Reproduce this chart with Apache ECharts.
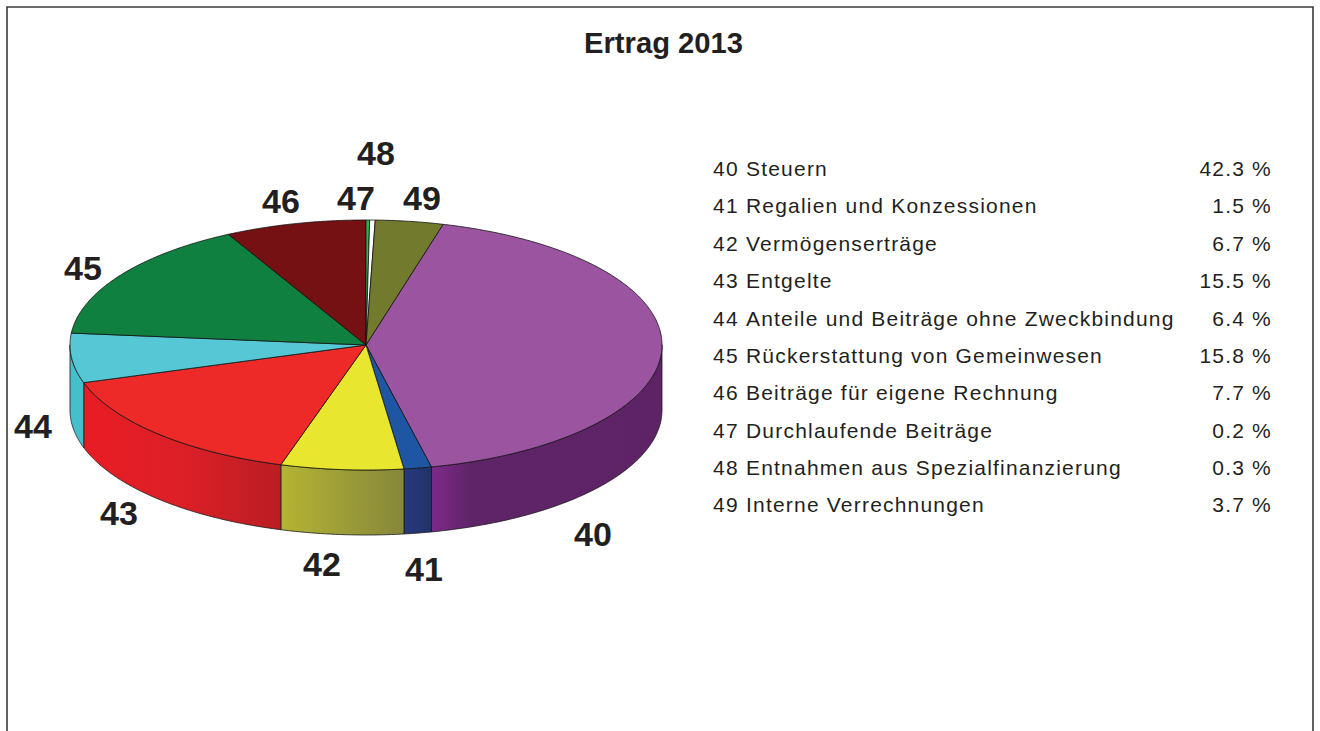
<!DOCTYPE html>
<html>
<head>
<meta charset="utf-8">
<style>
html,body{margin:0;padding:0;background:#fff;overflow:hidden}
#c{width:1320px;height:731px}
#c svg text{letter-spacing:1.2px}
#c svg text[style*="bold"]{letter-spacing:0}
</style>
<script src="https://cdn.jsdelivr.net/npm/echarts@6/dist/echarts.min.js"></script>
</head>
<body>
<div id="c"></div>
<script>
const codes = ['40','41','42','43','44','45','46','47','48','49'];
const names = ['Steuern','Regalien und Konzessionen','Vermögenserträge','Entgelte','Anteile und Beiträge ohne Zweckbindung','Rückerstattung von Gemeinwesen','Beiträge für eigene Rechnung','Durchlaufende Beiträge','Entnahmen aus Spezialfinanzierung','Interne Verrechnungen'];
const shares = [42.3,1.5,6.7,15.5,6.4,15.8,7.7,0.2,0.3,3.7];
const title = 'Ertrag 2013';

// appearance and layout, separate from the data
const topColors = ['#9b55a0','#1e56a4','#e8e62f','#ee2a29','#56c7d5','#108040','#751013','#2fb24a','#ffffff','#727a2e'];
const wallStops = [
  [[0,'#7d2a8a'],[0.17,'#5f2468'],[1,'#5d2365']],
  [[0,'#26397b'],[1,'#22336b']],
  [[0,'#b4b434'],[1,'#86873a']],
  [[0,'#e81c24'],[0.5,'#dc1f27'],[1,'#b91e23']],
  [[0,'#45bfcc'],[1,'#45bfcc']],
  null,null,null,null,null
];
const labelCentres = [[593,534],[424,569],[322,564],[119,513],[33,426],[83,268],[281,201],[356,198],[376,153],[422,198]];
const pie = {cx:366, cy:345, rx:296, ry:125, depth:65, start:15.1};
const legend = {x:713, xName:746, xRight:1272, y0:168.6, dy:37.35, size:21};
const inkColor = '#231f20';

const total = shares.reduce((a,b)=>a+b,0);
const starts = [];
shares.reduce((acc,v,i)=>{starts[i]=acc;return acc+v/total*360;},pie.start);

function rim(a,dy){
  const r=a*Math.PI/180;
  return [pie.cx+pie.rx*Math.sin(r), pie.cy-pie.ry*Math.cos(r)+(dy||0)];
}
function arc(a0,a1,dy){
  const n=Math.max(2,Math.ceil(Math.abs(a1-a0)/0.5));
  const pts=[];
  for(let i=0;i<=n;i++) pts.push(rim(a0+(a1-a0)*i/n,dy));
  return pts;
}
function renderSlice(params,api){
  const i=params.dataIndex;
  const a0=starts[i];
  const a1=a0+api.value(1)/total*360;
  const children=[];
  const w0=Math.max(a0,90), w1=Math.min(a1,270);
  if(w1>w0 && wallStops[i]){
    children.push({
      type:'polygon',
      shape:{points:arc(w0,w1,0).concat(arc(w1,w0,pie.depth))},
      style:{fill:{type:'linear',x:0,y:0,x2:1,y2:0,colorStops:wallStops[i].map(s=>({offset:s[0],color:s[1]}))},stroke:'#1a1a1a',lineWidth:0.8,lineJoin:'round'}
    });
  }
  children.push({
    type:'polygon',
    shape:{points:[[pie.cx,pie.cy]].concat(arc(a0,a1,0))},
    style:{fill:topColors[i],stroke:'#111',lineWidth:0.8,lineJoin:'round'}
  });
  children.push({
    type:'text',
    style:{text:codes[i],x:labelCentres[i][0],y:labelCentres[i][1],align:'center',verticalAlign:'middle',
      font:'bold 34px "Liberation Sans", Arial, sans-serif',fill:inkColor}
  });
  return {type:'group',children};
}
function renderRow(params,api){
  const i=params.dataIndex;
  const y=legend.y0+legend.dy*i;
  const font=legend.size+'px "Liberation Sans", Arial, sans-serif';
  const t=(text,x,align)=>({type:'text',style:{text,x,y,align,verticalAlign:'middle',font,fill:inkColor}});
  return {type:'group',children:[
    t(codes[i],legend.x,'left'),
    t(names[i],legend.xName,'left'),
    t(shares[i].toFixed(1)+' %',legend.xRight,'right')
  ]};
}
const rows=codes.map((c,i)=>[c,shares[i]]);
const chart=echarts.init(document.getElementById('c'),null,{renderer:'svg',width:1320,height:731});
chart.setOption({
  animation:false,
  backgroundColor:'#ffffff',
  title:{text:title,left:584,top:28,padding:0,textStyle:{fontFamily:'"Liberation Sans", Arial, sans-serif',fontWeight:'bold',fontSize:29.2,color:inkColor}},
  tooltip:{show:false},
  graphic:[{type:'polyline',silent:true,shape:{points:[[7,740],[7,7],[1313,7],[1313,740]]},style:{fill:'none',stroke:'#3a3a3a',lineWidth:1.6}}],
  series:[
    {type:'custom',coordinateSystem:'none',silent:true,data:rows,renderItem:renderSlice},
    {type:'custom',coordinateSystem:'none',silent:true,data:rows,renderItem:renderRow}
  ]
});
</script>
</body>
</html>
